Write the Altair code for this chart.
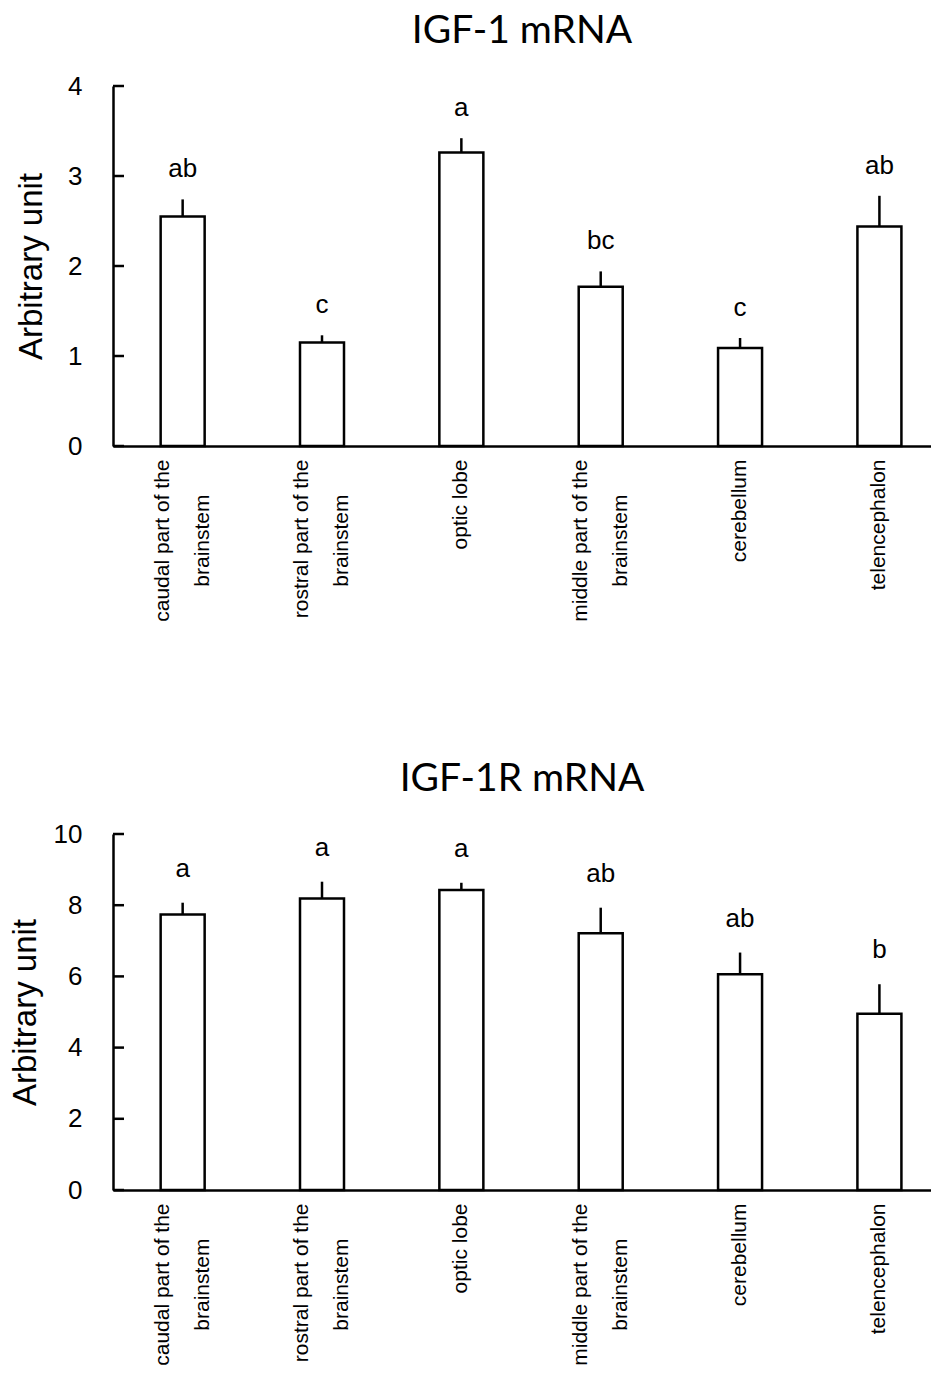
import json
import altair as alt
import pandas as pd

categories = ["caudal part of the brainstem", "rostral part of the brainstem", "optic lobe",
              "middle part of the brainstem", "cerebellum", "telencephalon"]
# second line padded so it sits centred under the first (as in the reference)
PAD = "\u00a0" * 6 + "\u200c"
label_lines = {
    "caudal part of the brainstem": ["caudal part of the", "brainstem" + PAD],
    "rostral part of the brainstem": ["rostral part of the", "brainstem" + PAD],
    "optic lobe": ["optic lobe"],
    "middle part of the brainstem": ["middle part of the", "brainstem" + PAD],
    "cerebellum": ["cerebellum"],
    "telencephalon": ["telencephalon"],
}

igf1_mean = [2.55, 1.15, 3.26, 1.77, 1.09, 2.44]
igf1_sem = [0.19, 0.08, 0.16, 0.17, 0.11, 0.34]
igf1_letters = ["ab", "c", "a", "bc", "c", "ab"]
igf1_ticks = [0, 1, 2, 3, 4]

igf1r_mean = [7.74, 8.19, 8.43, 7.21, 6.06, 4.95]
igf1r_sem = [0.33, 0.47, 0.20, 0.72, 0.61, 0.83]
igf1r_letters = ["a", "a", "a", "ab", "ab", "b"]
igf1r_ticks = [0, 2, 4, 6, 8, 10]

label_expr = " : ".join(
    f"datum.value == {json.dumps(c, ensure_ascii=False)} ? {json.dumps(label_lines[c], ensure_ascii=False)}"
    for c in categories
) + " : datum.label"

SANS = "Liberation Sans"


def panel(title, means, sems, letters, ticks, ymax, height, letter_dy, title_pad):
    df = pd.DataFrame({
        "category": categories,
        "mean": means,
        "top": [m + s for m, s in zip(means, sems)],
        "letter": letters,
    })
    tick_df = pd.DataFrame({"t": ticks})
    xscale = alt.Scale(paddingInner=0.684, paddingOuter=0.277, align=0.617)
    x = alt.X("category:N", sort=categories, scale=xscale,
              axis=alt.Axis(title=None, labelAngle=270, labelAlign="right", labelBaseline="middle",
                            labelExpr=label_expr, labelFont=SANS, labelFontSize=21,
                            labelLineHeight=40, labelPadding=13, labelColor="black",
                            labelOffset={"condition": {"test": "indexof(datum.value, 'brainstem') >= 0",
                                                       "value": -20}, "value": 0},
                            labelLimit=0, ticks=False, domainColor="black", domainWidth=2.5))
    yscale = alt.Scale(domain=[0, ymax], nice=False)
    y = alt.Y("mean:Q", scale=yscale,
              axis=alt.Axis(values=ticks, format="d", title="Arbitrary unit", titleFont=SANS,
                            titleFontSize=33, titleFontWeight="normal", titleColor="black",
                            titlePadding=title_pad, labelFont=SANS, labelFontSize=26, labelPadding=31,
                            labelColor="black", ticks=False, tickSize=0, grid=False,
                            domainColor="black", domainWidth=2.5))
    base = alt.Chart(df)
    bars = base.mark_bar(width=44, fill="white", stroke="black", strokeWidth=2.5).encode(x=x, y=y)
    err = base.mark_rule(color="black", strokeWidth=2.5).encode(
        x=alt.X("category:N", sort=categories), y="mean:Q", y2="top:Q")
    txt = base.mark_text(font=SANS, fontSize=26, baseline="alphabetic", dy=letter_dy, color="black").encode(
        x=alt.X("category:N", sort=categories), y="top:Q", text="letter:N")
    tk = alt.Chart(tick_df).mark_rule(color="black", strokeWidth=2.5).encode(
        y=alt.Y("t:Q", scale=yscale), x=alt.value(0), x2=alt.value(11))
    return alt.layer(bars, err, txt, tk).properties(
        width=818, height=height,
        title=alt.TitleParams(title, font="Lato", fontSize=39, fontWeight="normal", color="black",
                              anchor="middle", frame="group", offset=22),
    )


top = panel("IGF-1 mRNA", igf1_mean, igf1_sem, igf1_letters, igf1_ticks, 4, 360, -22, 19)
bottom = panel("IGF-1R mRNA", igf1r_mean, igf1r_sem, igf1r_letters, igf1r_ticks, 10, 356, -26, 11)

chart = alt.vconcat(top, bottom, spacing=138).properties(
    padding={"left": 1, "right": 0, "top": 4, "bottom": 0}
).configure(background="white").configure_view(stroke=None)

chart.save("out.html", embed_options={"renderer": "svg", "actions": False})
